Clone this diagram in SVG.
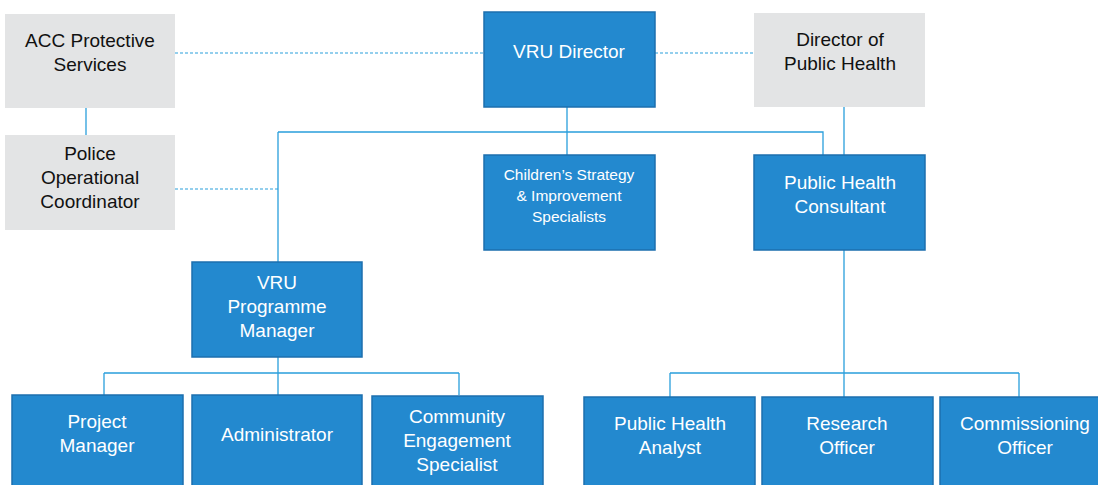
<svg xmlns="http://www.w3.org/2000/svg" width="1098" height="485" viewBox="0 0 1098 485">
<style>
.blue{fill:#2389cf;stroke:#1d6fae;stroke-width:1.5}
.grey{fill:#e3e4e5;stroke:none}
.tw{font-family:"Liberation Sans",Arial,sans-serif;font-size:19px;fill:#ffffff;text-anchor:middle}
.tb{font-family:"Liberation Sans",Arial,sans-serif;font-size:19px;fill:#111111;text-anchor:middle}
.ts{font-size:15.5px}
.ln{fill:none;stroke:#2a9fdc;stroke-width:1.3}
.dl{fill:none;stroke:#2a9fdc;stroke-width:1.2;stroke-dasharray:3 2}
</style>
<rect width="1098" height="485" fill="#ffffff"/>
<g id="connectors">
<path class="dl" d="M175 53H484M655 53H754M175 189H278"/>
<path class="ln" d="M86 108V135"/>
<path class="ln" d="M567 107V155M278 132H823V155M278 132V262"/>
<path class="ln" d="M844 107V155M844 250V397M670 373H1019M670 373V397M1019 373V397"/>
<path class="ln" d="M278 357V395M104 373H459M104 373V395M459 373V395"/>
</g>
<g id="acc"><rect class="grey" x="5" y="14" width="170" height="94"/><text class="tb" x="90" y="47">ACC Protective</text><text class="tb" x="90" y="71">Services</text></g>
<g id="police"><rect class="grey" x="5" y="135" width="170" height="95"/><text class="tb" x="90" y="160">Police</text><text class="tb" x="90" y="184">Operational</text><text class="tb" x="90" y="208">Coordinator</text></g>
<g id="vru-director"><rect class="blue" x="484" y="12" width="171" height="95"/><text class="tw" x="569" y="58">VRU Director</text></g>
<g id="dph"><rect class="grey" x="754" y="13" width="171" height="94"/><text class="tb" x="840" y="46">Director of</text><text class="tb" x="840" y="70">Public Health</text></g>
<g id="childrens"><rect class="blue" x="484" y="155" width="171" height="95"/><text class="tw ts" x="569" y="180">Children’s Strategy</text><text class="tw ts" x="569" y="201">&amp; Improvement</text><text class="tw ts" x="569" y="222">Specialists</text></g>
<g id="phc"><rect class="blue" x="754" y="155" width="171" height="95"/><text class="tw" x="840" y="189">Public Health</text><text class="tw" x="840" y="213">Consultant</text></g>
<g id="vru-pm"><rect class="blue" x="192" y="262" width="170" height="95"/><text class="tw" x="277" y="289">VRU</text><text class="tw" x="277" y="313">Programme</text><text class="tw" x="277" y="337">Manager</text></g>
<g id="project-manager"><rect class="blue" x="12" y="395" width="171" height="95"/><text class="tw" x="97" y="428">Project</text><text class="tw" x="97" y="452">Manager</text></g>
<g id="administrator"><rect class="blue" x="192" y="395" width="170" height="95"/><text class="tw" x="277" y="441">Administrator</text></g>
<g id="community"><rect class="blue" x="372" y="396" width="171" height="95"/><text class="tw" x="457" y="423">Community</text><text class="tw" x="457" y="447">Engagement</text><text class="tw" x="457" y="471">Specialist</text></g>
<g id="pha"><rect class="blue" x="584" y="397" width="171" height="95"/><text class="tw" x="670" y="430">Public Health</text><text class="tw" x="670" y="454">Analyst</text></g>
<g id="research"><rect class="blue" x="762" y="397" width="171" height="95"/><text class="tw" x="847" y="430">Research</text><text class="tw" x="847" y="454">Officer</text></g>
<g id="commissioning"><rect class="blue" x="940" y="397" width="171" height="95"/><text class="tw" x="1025" y="430">Commissioning</text><text class="tw" x="1025" y="454">Officer</text></g>
</svg>
